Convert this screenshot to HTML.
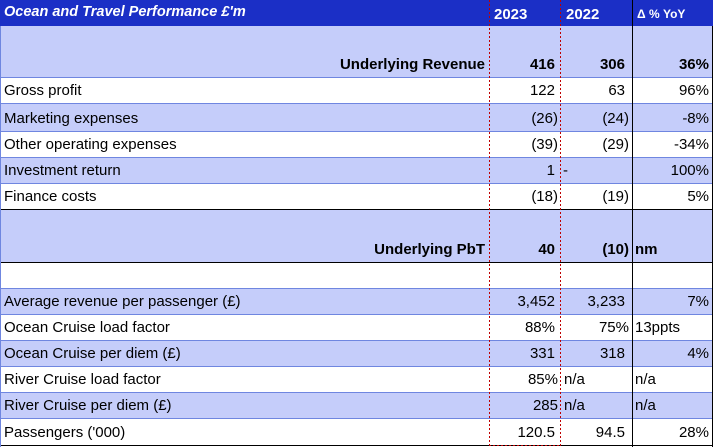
<!DOCTYPE html>
<html><head><style>
body{margin:0;width:713px;height:447px;background:#fff;font-family:"Liberation Sans",sans-serif;font-size:15px;color:#000;overflow:hidden;position:relative}
.r{position:absolute;left:0;width:713px;border-bottom:1px solid #6f86e0}
.l{background:#c5cdfa}
.c{position:absolute;bottom:4px;white-space:nowrap}
.v{position:absolute;top:0;bottom:0;width:0}
.d{position:absolute;top:0;bottom:1px;width:1px;background:repeating-linear-gradient(to bottom,#c00000 0 2px,transparent 2px 4px)}
</style></head><body>
<div class="r" style="top:0;height:26px;background:#1b2fc6;color:#fff;border-bottom:1px solid #1b2fc6">
<span class="c" style="left:4px;font-style:italic;font-weight:bold;font-size:14.5px;bottom:6px">Ocean and Travel Performance £'m</span>
<span class="c" style="left:494px;font-weight:bold;bottom:3px">2023</span>
<span class="c" style="left:566px;font-weight:bold;bottom:3px">2022</span>
<span class="c" style="left:637px;font-weight:bold;font-size:12px;bottom:5px">Δ % YoY</span></div>

<div class="r l" style="top:26px;height:51px"><b class="c" style="right:228px">Underlying Revenue</b><b class="c" style="right:158px">416</b><b class="c" style="right:88px">306</b><b class="c" style="right:4px">36%</b></div>
<div class="r" style="top:78px;height:25px"><span class="c" style="left:4px">Gross profit</span><span class="c" style="right:158px">122</span><span class="c" style="right:88px">63</span><span class="c" style="right:4px">96%</span></div>
<div class="r l" style="top:104px;height:27px"><span class="c" style="left:4px">Marketing expenses</span><span class="c" style="right:155px">(26)</span><span class="c" style="right:84px">(24)</span><span class="c" style="right:4px">-8%</span></div>
<div class="r" style="top:132px;height:25px"><span class="c" style="left:4px">Other operating expenses</span><span class="c" style="right:155px">(39)</span><span class="c" style="right:84px">(29)</span><span class="c" style="right:4px">-34%</span></div>
<div class="r l" style="top:158px;height:25px"><span class="c" style="left:4px">Investment return</span><span class="c" style="right:158px">1</span><span class="c" style="left:563px">-</span><span class="c" style="right:4px">100%</span></div>
<div class="r" style="top:184px;height:25px;border-bottom:1px solid #000"><span class="c" style="left:4px">Finance costs</span><span class="c" style="right:155px">(18)</span><span class="c" style="right:84px">(19)</span><span class="c" style="right:4px">5%</span></div>
<div class="r l" style="top:210px;height:52px;border-bottom:1px solid #000"><b class="c" style="right:228px">Underlying PbT</b><b class="c" style="right:158px">40</b><b class="c" style="right:84px">(10)</b><b class="c" style="left:635px">nm</b></div>
<div class="r" style="top:263px;height:25px"></div>
<div class="r l" style="top:289px;height:25px"><span class="c" style="left:4px">Average revenue per passenger (£)</span><span class="c" style="right:158px">3,452</span><span class="c" style="right:88px">3,233</span><span class="c" style="right:4px">7%</span></div>
<div class="r" style="top:315px;height:25px"><span class="c" style="left:4px">Ocean Cruise load factor</span><span class="c" style="right:158px">88%</span><span class="c" style="right:84px">75%</span><span class="c" style="left:635px">13ppts</span></div>
<div class="r l" style="top:341px;height:25px"><span class="c" style="left:4px">Ocean Cruise per diem (£)</span><span class="c" style="right:158px">331</span><span class="c" style="right:88px">318</span><span class="c" style="right:4px">4%</span></div>
<div class="r" style="top:367px;height:25px"><span class="c" style="left:4px">River Cruise load factor</span><span class="c" style="right:155px">85%</span><span class="c" style="left:564px">n/a</span><span class="c" style="left:635px">n/a</span></div>
<div class="r l" style="top:393px;height:25px"><span class="c" style="left:4px">River Cruise per diem (£)</span><span class="c" style="right:155px">285</span><span class="c" style="left:564px">n/a</span><span class="c" style="left:635px">n/a</span></div>
<div class="r" style="top:419px;height:26px;border-bottom:1px solid #000"><span class="c" style="left:4px">Passengers ('000)</span><span class="c" style="right:158px">120.5</span><span class="c" style="right:88px">94.5</span><span class="c" style="right:4px">28%</span></div>

<div class="d" style="left:489px"></div>
<div class="d" style="left:560px"></div>
<div style="position:absolute;left:489px;width:72px;top:445px;height:1px;background:repeating-linear-gradient(to right,#c00000 0 2px,transparent 2px 4px)"></div>
<div class="v" style="left:632px;border-left:1px solid #000;top:0"></div>
<div class="v" style="left:712px;border-left:1px solid #000;top:26px"></div>
<div class="v" style="left:0;border-left:1px solid #6f86e0;top:26px"></div>
</body></html>
